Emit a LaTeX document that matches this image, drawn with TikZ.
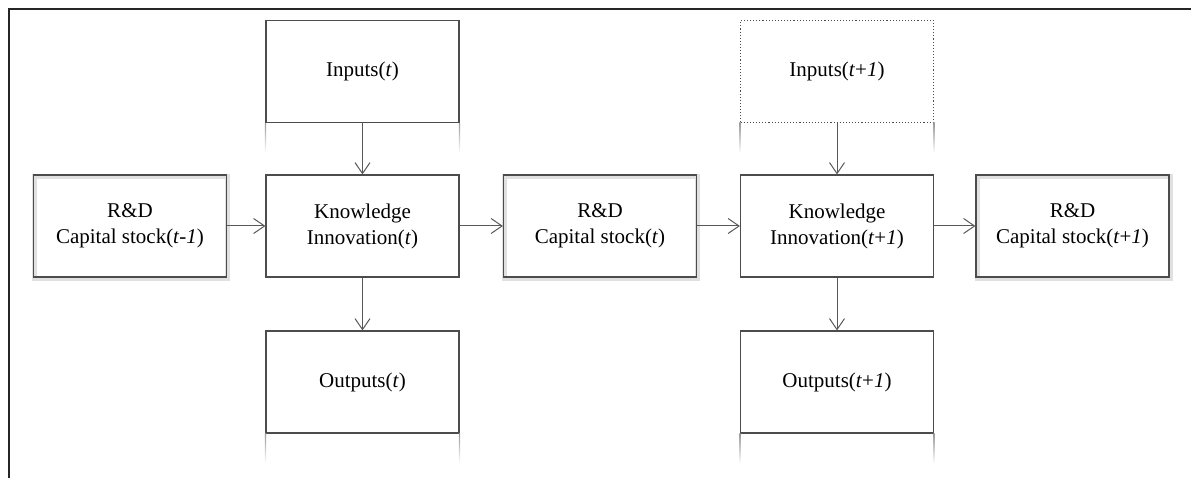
\documentclass[tikz,border=0pt]{standalone}
\usepackage{fontspec}
\setmainfont{Liberation Serif}
\usetikzlibrary{arrows.meta}

\tikzset{
  box/.style={draw=black!70, line width=1.1pt, minimum width=193pt, minimum height=102pt,
    align=center, inner sep=0pt, font=\fontsize{21}{26}\selectfont},
  rdbox/.style={box, preaction={draw=black!12, line width=5pt, transform canvas={shift={(1pt,-1.5pt)}}}},
  flow/.style={draw=black!65, line width=1pt, -{Straight Barb[length=11pt,width=15pt,line width=1pt]}},
  fade/.style={top color=black!40, bottom color=white, draw=none}
}

\begin{document}
\begin{tikzpicture}[x=1pt,y=-1pt]

\useasboundingbox (0,0) rectangle (1191,478);

% Cadre
\draw[line width=1.6pt,black!85]
(9,478)
--
(9,9)
--
(1191,9);

% Periode t
\node[box] (inA) at (362.5,71.5) {Inputs(\textit{t})};
\node[box] (knA) at (362.5,226) {Knowledge\\Innovation(\textit{t})};
\node[box] (outA) at (362.5,382) {Outputs(\textit{t})};
\node[rdbox] (rdA) at (130,226) {R\&D\\Capital stock(\textit{t}-\textit{1})};
\node[rdbox] (rdB) at (600,226) {R\&D\\Capital stock(\textit{t})};

% Periode t+1
\node[box,dotted,line width=1pt] (inB) at (837,71.5) {Inputs(\textit{t}+\textit{1})};
\node[box] (knB) at (837,226) {Knowledge\\Innovation(\textit{t}+\textit{1})};
\node[box] (outB) at (837,382) {Outputs(\textit{t}+\textit{1})};
\node[rdbox] (rdC) at (1072.5,226) {R\&D\\Capital stock(\textit{t}+\textit{1})};

% Reflets
\shade[fade] ([xshift=-0.6pt]inA.south west) rectangle ([xshift=0.6pt,yshift=-30pt]inA.south west);
\shade[fade] ([xshift=-0.6pt]inA.south east) rectangle ([xshift=0.6pt,yshift=-30pt]inA.south east);
\shade[fade] ([xshift=-0.6pt]inB.south west) rectangle ([xshift=0.6pt,yshift=-30pt]inB.south west);
\shade[fade] ([xshift=-0.6pt]inB.south east) rectangle ([xshift=0.6pt,yshift=-30pt]inB.south east);
\shade[fade] ([xshift=-0.6pt]outA.south west) rectangle ([xshift=0.6pt,yshift=-30pt]outA.south west);
\shade[fade] ([xshift=-0.6pt]outA.south east) rectangle ([xshift=0.6pt,yshift=-30pt]outA.south east);
\shade[fade] ([xshift=-0.6pt]outB.south west) rectangle ([xshift=0.6pt,yshift=-30pt]outB.south west);
\shade[fade] ([xshift=-0.6pt]outB.south east) rectangle ([xshift=0.6pt,yshift=-30pt]outB.south east);

% Fleches
\draw[flow] (inA) -- (knA);
\draw[flow] (knA) -- (outA);
\draw[flow] (inB) -- (knB);
\draw[flow] (knB) -- (outB);
\draw[flow] (rdA) -- (knA);
\draw[flow] (knA) -- (rdB);
\draw[flow] (rdB) -- (knB);
\draw[flow] (knB) -- (rdC);

\end{tikzpicture}
\end{document}
